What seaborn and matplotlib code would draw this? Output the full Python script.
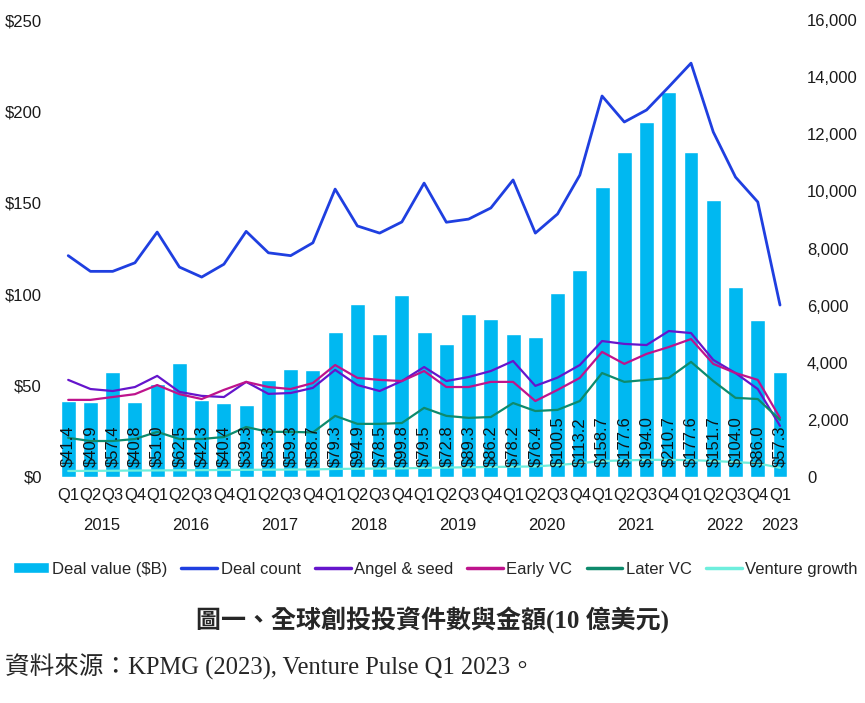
import numpy as np
import pandas as pd
import matplotlib
matplotlib.use("Agg")
import matplotlib.pyplot as plt
import seaborn as sns

# chart values
quarters = ["Q1", "Q2", "Q3", "Q4"] * 8 + ["Q1"]
years = ["2015", "2016", "2017", "2018", "2019", "2020", "2021", "2022", "2023"]
deal_value = [41.4, 40.9, 57.4, 40.8, 51.0, 62.5, 42.3, 40.4, 39.3, 53.3, 59.3, 58.7,
              79.3, 94.9, 78.5, 99.8, 79.5, 72.8, 89.3, 86.2, 78.2, 76.4, 100.5, 113.2,
              158.7, 177.6, 194.0, 210.7, 177.6, 151.7, 104.0, 86.0, 57.3]
deal_count = [7750, 7200, 7200, 7500, 8575, 7350, 7000, 7450, 8600, 7850, 7750, 8200,
              10080, 8790, 8540, 8930, 10290, 8920, 9030, 9420, 10400, 8540, 9210, 10570,
              13340, 12430, 12850, 13660, 14490, 12080, 10500, 9630, 6020]
angel_seed = [3400, 3080, 3010, 3150, 3540, 2980, 2840, 2800, 3330, 2910, 2940, 3120,
              3750, 3220, 3010, 3360, 3850, 3360, 3500, 3710, 4060, 3190, 3480, 3920,
              4760, 4660, 4620, 5110, 5040, 4100, 3640, 3080, 1790]
early_vc = [2700, 2700, 2800, 2900, 3220, 2900, 2730, 3050, 3330, 3150, 3080, 3290,
            3920, 3470, 3400, 3360, 3710, 3150, 3150, 3330, 3330, 2660, 3050, 3470,
            4380, 3960, 4310, 4550, 4830, 3960, 3640, 3400, 2070]
later_vc = [1370, 1260, 1260, 1330, 1580, 1330, 1330, 1400, 1750, 1580, 1580, 1560,
            2140, 1860, 1860, 1890, 2420, 2140, 2070, 2100, 2590, 2310, 2350, 2660,
            3640, 3330, 3400, 3470, 4030, 3360, 2770, 2730, 2000]
venture_growth = [210, 215, 220, 225, 230, 235, 240, 245, 250, 255, 260, 265,
                  280, 290, 295, 300, 320, 330, 340, 350, 360, 370, 420, 480,
                  560, 580, 600, 600, 590, 560, 520, 480, 320]

period = [f"{y}{q}" for y in years[:-1] for q in ["Q1", "Q2", "Q3", "Q4"]] + ["2023Q1"]
df = pd.DataFrame({"period": period, "idx": np.arange(len(period)),
                   "deal_value": deal_value})

series = [
    ("Deal count", deal_count, "#1F3FE0", 2.0),
    ("Angel & seed", angel_seed, "#6515CC", 1.6),
    ("Early VC", early_vc, "#BE138C", 1.6),
    ("Later VC", later_vc, "#0E8A6C", 1.6),
    ("Venture growth", venture_growth, "#6EEEDD", 1.6),
]

sns.set_style("white")
plt.rcParams["font.family"] = ["Liberation Sans", "Noto Sans CJK TC"]

fig = plt.figure(figsize=(8.65, 7.03), dpi=100)
ax = fig.add_axes([0.066, 0.3215, 0.8486, 0.650])

sns.barplot(data=df, x="period", y="deal_value", color="#00B8F1", width=0.67,
            saturation=1, label="Deal value ($B)", ax=ax)
ax.set_ylim(0, 250)
ax.set_yticks([0, 50, 100, 150, 200, 250])
ax.set_yticklabels([f"${v}" for v in [0, 50, 100, 150, 200, 250]])
ax.set_xticks(range(len(quarters)))
ax.set_xticklabels(quarters)
ax.set_xlim(-0.5, len(quarters) - 0.5)
ax.set_xlabel("")
ax.set_ylabel("")
ax.tick_params(axis="x", length=0, pad=8, labelsize=12, colors="#1a1a1a")
ax.tick_params(axis="y", length=0, pad=11, labelsize=12, colors="#1a1a1a")

ax2 = ax.twinx()
for name, vals, col, lw in series:
    sns.lineplot(x=df["idx"], y=vals, color=col, linewidth=lw, label=name, ax=ax2)
ax2.set_ylim(0, 16000)
ax2.set_yticks(range(0, 16001, 2000))
ax2.set_yticklabels([f"{v:,}" for v in range(0, 16001, 2000)])
ax2.set_ylabel("")
ax2.tick_params(axis="y", length=0, pad=11.5, labelsize=12, colors="#1a1a1a")
ax2.set_xlim(-0.5, len(quarters) - 0.5)

# bar value labels
for i, v in enumerate(deal_value):
    ax2.annotate(f"${v:.1f}", xy=(i, 0), xytext=(0, 7), textcoords="offset points",
                 rotation=90, ha="center", va="bottom", fontsize=12, color="#111111")

# year labels under the quarters
year_pos = [1.5 + 4 * k for k in range(8)] + [32]
for y, xp in zip(years, year_pos):
    ax.annotate(y, xy=(xp, 0), xycoords=("data", "axes fraction"), xytext=(0, -35),
                textcoords="offset points", ha="center", va="center", fontsize=12,
                color="#1a1a1a")

for a in (ax, ax2):
    for s in a.spines.values():
        s.set_visible(False)

h1, l1 = ax.get_legend_handles_labels()
h2, l2 = ax2.get_legend_handles_labels()
ax2.get_legend().remove()
if ax.get_legend():
    ax.get_legend().remove()
leg = fig.legend(h1 + h2, l1 + l2, loc="center", bbox_to_anchor=(0.503, 0.1906), ncol=6,
                 frameon=False, fontsize=12, handlelength=2.15, handletextpad=0.2,
                 columnspacing=0.85, handleheight=0.6)
for line in leg.get_lines():
    line.set_linewidth(2.5)

serif = ["Liberation Serif", "Noto Sans CJK TC"]
fig.text(0.5, 0.118, "圖一、全球創投投資件數與金額(10 億美元)", ha="center", va="center",
         fontsize=18, fontweight="bold", family=serif)
fig.text(0.006, 0.051, "資料來源：KPMG (2023), Venture Pulse Q1 2023。", ha="left",
         va="center", fontsize=17.7, family=serif)

fig.savefig("out.png", dpi=100)
